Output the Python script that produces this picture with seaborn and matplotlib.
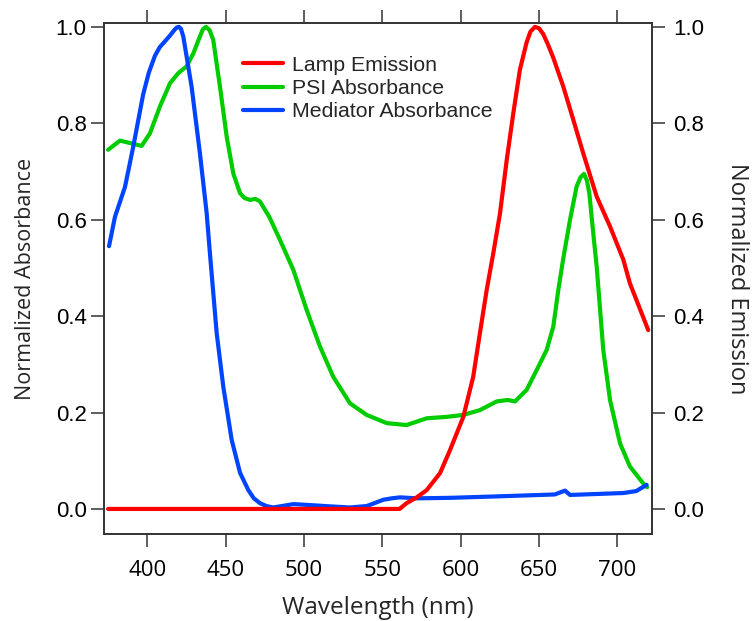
import matplotlib
matplotlib.use("Agg")
import matplotlib.pyplot as plt
import seaborn as sns
import pandas as pd
from matplotlib.lines import Line2D

sns.set_theme(style="white")
plt.rcParams['font.family'] = ['Liberation Sans', 'DejaVu Sans']

# ---- data ----
lamp_wl = [375, 561, 565.5, 572, 578.3, 586.8, 593.2, 601.7, 608, 612.3, 616.6, 620.8,
           625.1, 629.4, 633.6, 637.8, 642.1, 644.5, 647.4, 650, 652.7, 655.5, 659.1, 665.5,
           671.9, 678.2, 686.8, 695.3, 703.8, 708, 719.7]
lamp_em = [0.0, 0.0, 0.012, 0.024, 0.039, 0.074, 0.122, 0.191, 0.274, 0.365, 0.454, 0.53,
           0.613, 0.724, 0.821, 0.911, 0.968, 0.99, 1.0, 0.997, 0.985, 0.965, 0.936, 0.876,
           0.807, 0.738, 0.648, 0.586, 0.517, 0.468, 0.371]

psi_wl = [375, 382.6, 389, 396.4, 401.7, 408.1, 414.5, 419.8, 425.1, 429.4, 433.6, 435.5,
          437.5, 439.8, 442.1, 446.4, 450.7, 454.9, 459.2, 462, 465.5, 469, 471.9, 478, 484.7,
          493.2, 501.7, 510.2, 518.7, 529.4, 540, 552.8, 565.5, 578.3, 591.1, 601.7, 612.3,
          623, 630, 634.7, 642.1, 648.5, 654.9, 659.1, 662.3, 665.5, 669.8, 674, 676.5, 678.7,
          680.5, 682.1, 684.6, 686.8, 691, 695.3, 701.7, 708, 716.5, 719]
psi_abs = [0.745, 0.764, 0.759, 0.753, 0.779, 0.835, 0.883, 0.904, 0.918, 0.945, 0.98, 0.995,
           1.0, 0.993, 0.973, 0.876, 0.772, 0.696, 0.655, 0.645, 0.641, 0.643, 0.638, 0.605,
           0.558, 0.496, 0.413, 0.337, 0.274, 0.219, 0.195, 0.178, 0.174, 0.188, 0.191, 0.195,
           0.205, 0.223, 0.226, 0.223, 0.247, 0.288, 0.33, 0.378, 0.454, 0.52, 0.6, 0.669,
           0.688, 0.695, 0.682, 0.655, 0.572, 0.503, 0.33, 0.226, 0.136, 0.088, 0.053, 0.045]

med_wl = [375.6, 379.4, 385.8, 391.1, 397.4, 401, 404.9, 408, 411.3, 414.5, 417.7, 419, 420.2,
          421.5, 423, 428.3, 433.6, 437.9, 440, 444.3, 448.5, 453.9, 459.2, 464.5, 468, 471.9,
          476, 480.4, 486, 493.2, 503.8, 518.5, 529.4, 540, 545, 550.6, 556, 561.3, 572, 593,
          623, 660, 666.6, 669.8, 703.8, 712, 718.7]
med_abs = [0.545, 0.606, 0.668, 0.752, 0.86, 0.905, 0.94, 0.958, 0.970, 0.982, 0.995, 0.999,
           1.0, 0.996, 0.98, 0.876, 0.738, 0.614, 0.53, 0.365, 0.254, 0.143, 0.075, 0.039,
           0.022, 0.012, 0.006, 0.003, 0.006, 0.010, 0.008, 0.005, 0.003, 0.006, 0.012, 0.019,
           0.022, 0.024, 0.022, 0.023, 0.026, 0.03, 0.038, 0.029, 0.033, 0.037, 0.050]

series_names = ["Lamp Emission", "PSI Absorbance", "Mediator Absorbance"]
colors = ["#ff0000", "#00cc00", "#0044ff"]
x_ticks = [400, 450, 500, 550, 600, 650, 700]
y_ticks = [0.0, 0.2, 0.4, 0.6, 0.8, 1.0]

fig = plt.figure(figsize=(7.52, 6.21), dpi=100)
ax = fig.add_axes([104/752, 1-534/621, (652-104)/752, (534-23)/621])
ax2 = ax.twinx()

lw = 3.0
style = dict(linewidth=lw, solid_joinstyle="round", solid_capstyle="round")
sns.lineplot(x=psi_wl, y=psi_abs, ax=ax, color=colors[1], **style)
sns.lineplot(x=med_wl, y=med_abs, ax=ax, color=colors[2], **style)
sns.lineplot(x=lamp_wl, y=lamp_em, ax=ax2, color=colors[0], **style)

xmin, xmax = 372.4, 722.1
ylo, yhi = -0.052, 1.008
for a in (ax, ax2):
    a.set_xlim(xmin, xmax)
    a.set_ylim(ylo, yhi)
    for s in a.spines.values():
        s.set_color("#333333")
        s.set_linewidth(1.2)
    a.grid(False)

ax.set_xticks(x_ticks)
ax.set_yticks(y_ticks)
ax2.set_yticks(y_ticks)
ax.set_yticklabels([f"{v:.1f}" for v in y_ticks])
ax2.set_yticklabels([f"{v:.1f}" for v in y_ticks])
ax.set_xticklabels([str(v) for v in x_ticks], fontfamily="Open Sans")

ax.tick_params(axis="x", which="both", bottom=True, top=True, direction="out",
               length=9.5, width=1.1, color="#333333", labelsize=16, pad=9, labelcolor="black")
ax.tick_params(axis="y", left=True, direction="out", length=9.5, width=1.1,
               color="#333333", labelsize=16, pad=3, labelcolor="black")
ax2.tick_params(axis="y", right=True, direction="out", length=9.5, width=1.1,
                color="#333333", labelsize=16, pad=6, labelcolor="black")

ax.set_xlabel("Wavelength (nm)", fontsize=17.5, fontfamily="Open Sans", labelpad=11)
ax.set_ylabel("Normalized Absorbance", fontsize=15.5, fontfamily="Open Sans", labelpad=14)
ax2.set_ylabel("Normalized Emission", fontsize=17, fontfamily="Open Sans",
               rotation=270, labelpad=32)

handles = [Line2D([], [], color=c, linewidth=lw) for c in colors]
leg = ax2.legend(handles, series_names, loc="upper left", bbox_to_anchor=(0.2536, 0.936),
                 frameon=False, fontsize=15.3, handlelength=1.9, handletextpad=0.42,
                 labelspacing=0.2, borderaxespad=0, borderpad=0)

fig.savefig("out.png", dpi=100)
